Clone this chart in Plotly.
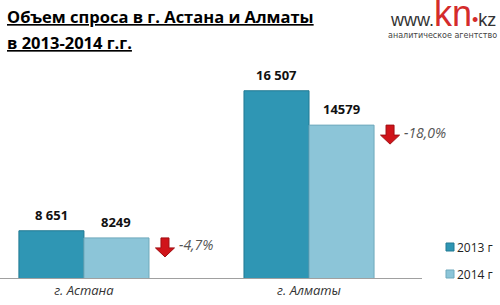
import plotly.graph_objects as go

categories = ["г. Астана", "г. Алматы"]
years = ["2013 г", "2014 г"]
values_2013 = [8651, 16507]
values_2014 = [8249, 14579]
labels_2013 = ["8 651", "16 507"]
labels_2014 = ["8249", "14579"]
changes = ["-4,7%", "-18,0%"]

colors = ["#2F96B4", "#8CC5D8"]
line_colors = ["#237A93", "#6FA9BC"]

xpos = list(range(len(categories)))

# plot area geometry (px)
T, B = 60, 27
PH = 305 - T - B


def py(p):
    """pixel row -> paper y"""
    return (305 - B - p) / PH


fig = go.Figure()
for vals, name, c, lc in zip([values_2013, values_2014], years, colors, line_colors):
    fig.add_trace(go.Bar(x=xpos, y=vals, name=name, showlegend=False,
                         marker=dict(color=c, line=dict(color=lc, width=1)),
                         hoverinfo="skip"))

annotations = []
shapes = []
# value labels
for i in xpos:
    for vals, labs, sh in [(values_2013, labels_2013, -32.5), (values_2014, labels_2014, 32.5)]:
        annotations.append(dict(x=i, y=vals[i], xref="x", yref="y", text="<b>" + labs[i] + "</b>",
                                showarrow=False, xshift=sh, yanchor="bottom", yshift=5,
                                font=dict(family="Open Sans", size=13, color="#111")))
    annotations.append(dict(x=i + 0.36, y=values_2014[i], xref="x", yref="y",
                            text="<i>" + changes[i] + "</i>", showarrow=False,
                            xanchor="left", xshift=12, yshift=-7,
                            font=dict(family="Open Sans", size=14, color="#555")))

arrow_path = "M -4,0 L 4,0 L 4,-10 L 9.5,-10 L 0,-19 L -9.5,-10 L -4,-10 Z"
for i in xpos:
    shapes.append(dict(type="path", xref="x", yref="y", xsizemode="pixel", ysizemode="pixel",
                       xanchor=i + 0.36, yanchor=values_2014[i], path=arrow_path,
                       fillcolor="#D0141A", line=dict(color="#A00E12", width=1)))

# title
for txt, p in [("Объем спроса в г. Астана и Алматы", 17), ("в 2013-2014 г.г.", 42)]:
    annotations.append(dict(xref="paper", yref="paper", x=0, y=py(p), xanchor="left", yanchor="middle",
                            xshift=5, showarrow=False, text="<b><u>" + txt + "</u></b>",
                            font=dict(family="Open Sans", size=16.5, color="#000")))
# logo
annotations.append(dict(xref="paper", yref="paper", x=1, y=py(36), xanchor="right", yanchor="bottom",
                        xshift=76, showarrow=False,
                        text="<span style='color:#333'>www.</span><span style='color:#D42B2B;font-size:36px'>kn</span><span style='color:#D42B2B'>•</span><span style='color:#333'>kz</span>",
                        font=dict(family="Arial", size=18, color="#333")))
annotations.append(dict(xref="paper", yref="paper", x=1, y=py(29), xanchor="right", yanchor="top",
                        xshift=77, showarrow=False,
                        text="аналитическое агентство",
                        font=dict(family="DejaVu Sans", size=8, color="#444")))

# manual legend
for name, c, lc, p in zip(years, colors, line_colors, [247, 274]):
    shapes.append(dict(type="rect", xref="paper", yref="paper", xsizemode="pixel", ysizemode="pixel",
                       xanchor=1, yanchor=py(p), x0=24, x1=32, y0=-4, y1=4,
                       fillcolor=c, line=dict(color=lc, width=1)))
    annotations.append(dict(xref="paper", yref="paper", x=1, y=py(p), xanchor="left", yanchor="middle",
                            xshift=33, showarrow=False, text=name,
                            font=dict(family="Open Sans", size=12, color="#222")))

fig.update_layout(
    width=500, height=305,
    margin=dict(l=0, r=78, t=T, b=B, autoexpand=False),
    paper_bgcolor="white", plot_bgcolor="white",
    barmode="group", bargap=0.422, bargroupgap=0,
    xaxis=dict(range=[-0.373, 1.502], tickvals=xpos,
               ticktext=["<i>" + c + "</i>" for c in categories],
               showline=True, linecolor="#A0A0A0", linewidth=1, ticks="",
               showgrid=False, zeroline=False,
               tickfont=dict(family="Open Sans", size=13, color="#333")),
    yaxis=dict(range=[6000, 18233], visible=False, showgrid=False),
    showlegend=False,
    annotations=annotations, shapes=shapes,
)

fig.write_html("out.html")
